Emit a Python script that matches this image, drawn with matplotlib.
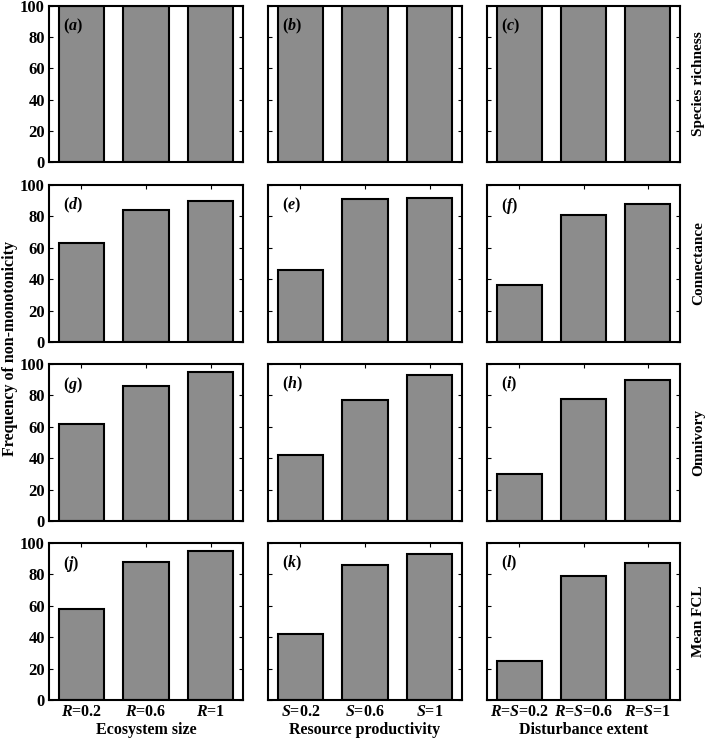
import matplotlib
matplotlib.use("Agg")
import matplotlib.pyplot as plt
import numpy as np

plt.rcParams['font.family'] = ['Liberation Serif', 'DejaVu Serif']
plt.rcParams['font.weight'] = 'bold'
plt.rcParams['mathtext.fontset'] = 'custom'
plt.rcParams['mathtext.rm'] = 'Liberation Serif:bold'
plt.rcParams['mathtext.it'] = 'Liberation Serif:bold:italic'
plt.rcParams['mathtext.bf'] = 'Liberation Serif:bold'

row_labels = ["Species richness", "Connectance", "Omnivory", "Mean FCL"]
col_labels = ["Ecosystem size", "Resource productivity", "Disturbance extent"]
tick_labels = [
    ["$R$=0.2", "$R$=0.6", "$R$=1"],
    ["$S$=0.2", "$S$=0.6", "$S$=1"],
    ["$R$=$S$=0.2", "$R$=$S$=0.6", "$R$=$S$=1"],
]
panel_letters = ["a", "b", "c", "d", "e", "f", "g", "h", "i", "j", "k", "l"]

species_richness = [[100, 100, 100], [100, 100, 100], [100, 100, 100]]
connectance = [[63, 84, 90], [46, 91, 92], [36, 81, 88]]
omnivory = [[62, 86, 95], [42, 77, 93], [30, 78, 90]]
mean_fcl = [[58, 88, 95], [42, 86, 93], [25, 79, 87]]
values = [species_richness, connectance, omnivory, mean_fcl]

W, H = 709, 739
fig = plt.figure(figsize=(W / 100, H / 100), dpi=100)

col_x = [(49, 243), (268, 462), (487, 680)]
row_y = [(6, 162), (185, 342), (364, 521), (543, 700)]

for r in range(4):
    for c in range(3):
        x0, x1 = col_x[c]
        y0, y1 = row_y[r]
        ax = fig.add_axes([x0 / W, 1 - y1 / H, (x1 - x0) / W, (y1 - y0) / H])
        pos = np.arange(1, 4)
        ax.bar(pos, values[r][c], width=0.7, color='#8c8c8c',
               edgecolor='black', linewidth=1.5, zorder=2)
        ax.set_xlim(0.5, 3.5)
        ax.set_ylim(0, 100)
        ax.set_xticks(pos)
        ax.set_yticks(np.arange(0, 101, 20))
        ax.tick_params(direction='in', top=True, right=True, length=3,
                       width=0.8, labelsize=12, pad=3)
        for s in ax.spines.values():
            s.set_linewidth(1.5)
        if c == 0:
            ax.set_yticklabels([str(v) for v in range(0, 101, 20)])
        else:
            ax.set_yticklabels([])
        if r == 3:
            ax.set_xticklabels(tick_labels[c], fontsize=11.5)
            ax.set_xlabel(col_labels[c], fontsize=11.5, fontweight='bold', labelpad=1)
        else:
            ax.set_xticklabels([])
        ax.text(0.07, 0.93, "(" + "$" + panel_letters[r * 3 + c] + "$" + ")",
                transform=ax.transAxes, ha='left', va='top', fontsize=11.5,
                fontweight='bold', zorder=5)
        if c == 2:
            ax.text(1.095, 0.5, row_labels[r], transform=ax.transAxes,
                    rotation=90, ha='center', va='center', fontsize=11,
                    fontweight='bold')

fig.text(10 / W, 1 - 348 / H, "Frequency of non-monotonicity", rotation=90,
         ha='center', va='center', fontsize=11.5, fontweight='bold')

fig.savefig("out.png", dpi=100)
